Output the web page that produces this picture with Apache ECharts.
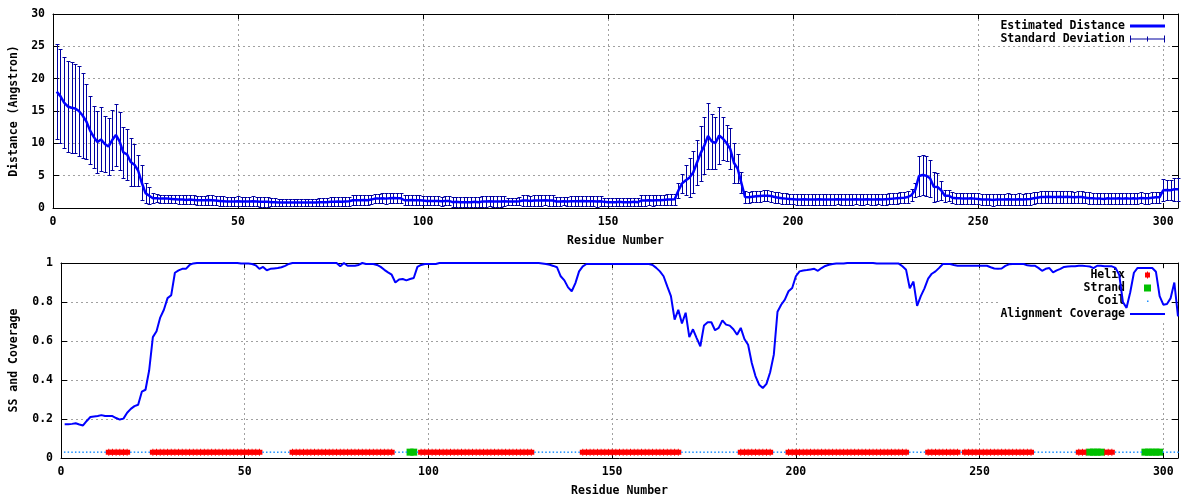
<!DOCTYPE html>
<html><head><meta charset="utf-8">
<script src="https://cdn.jsdelivr.net/npm/echarts@6/dist/echarts.min.js"></script>
<style>html,body{margin:0;padding:0;background:#fff}#c{width:1200px;height:500px}</style>
</head><body><div id="c"></div>
<script>
// ---------------- DATA ----------------
const xTicks = [0, 50, 100, 150, 200, 250, 300];
const distanceTicks = [0, 5, 10, 15, 20, 25, 30];
const coverageTicks = [0, 0.2, 0.4, 0.6, 0.8, 1];

// Estimated distance per residue (1..304)
const distance = [
 18.0,17.3,16.3,15.7,15.5,15.4,15.0,14.3,13.4,12.0,
 11.0,10.2,10.6,9.9,9.5,10.5,11.3,10.3,8.6,8.3,
 7.1,6.7,5.8,3.9,2.3,1.9,1.5,1.5,1.45,1.45,
 1.45,1.4,1.35,1.3,1.3,1.25,1.3,1.25,1.2,1.2,
 1.2,1.25,1.2,1.15,1.1,1.05,1.0,1.0,1.0,1.05,
 1.0,1.0,1.0,1.05,1.0,0.95,0.95,0.95,0.9,0.9,
 0.85,0.85,0.85,0.85,0.85,0.85,0.85,0.85,0.85,0.85,
 0.85,0.9,0.9,0.9,0.95,0.95,1.0,0.95,1.0,1.05,
 1.2,1.2,1.2,1.25,1.2,1.3,1.45,1.45,1.5,1.45,
 1.5,1.55,1.5,1.5,1.2,1.2,1.25,1.2,1.2,1.15,
 1.1,1.1,1.1,1.1,1.05,1.1,1.1,0.9,0.95,0.9,
 0.9,0.9,0.9,0.95,0.9,1.0,1.0,1.05,1.0,1.0,
 1.0,1.05,1.0,1.0,1.0,1.05,1.15,1.15,1.1,1.15,
 1.15,1.15,1.2,1.15,1.15,1.0,1.0,1.05,1.0,1.05,
 1.05,1.05,1.1,1.05,1.05,1.05,1.0,1.05,0.95,0.9,
 0.9,0.9,0.95,0.9,0.9,0.9,0.95,0.9,1.15,1.15,
 1.2,1.15,1.2,1.2,1.25,1.3,1.3,1.35,2.7,3.8,
 4.3,4.7,5.5,7.0,8.45,9.65,11.15,10.3,10.05,11.2,
 10.75,10.05,9.15,7.0,6.1,3.9,1.7,1.65,1.75,1.8,
 1.85,1.9,1.9,1.85,1.7,1.6,1.5,1.45,1.4,1.35,
 1.3,1.3,1.35,1.3,1.3,1.3,1.35,1.3,1.3,1.3,
 1.3,1.35,1.3,1.3,1.3,1.3,1.35,1.3,1.3,1.35,
 1.3,1.3,1.35,1.3,1.35,1.4,1.45,1.5,1.55,1.6,
 1.7,2.0,2.8,4.95,5.1,5.0,4.6,3.3,3.25,2.75,
 1.9,1.9,1.6,1.5,1.5,1.45,1.45,1.5,1.45,1.4,
 1.3,1.3,1.3,1.25,1.3,1.3,1.3,1.35,1.3,1.3,
 1.35,1.3,1.35,1.4,1.5,1.6,1.7,1.7,1.75,1.7,
 1.7,1.75,1.7,1.75,1.7,1.65,1.7,1.7,1.6,1.5,
 1.5,1.45,1.45,1.4,1.5,1.45,1.45,1.5,1.45,1.5,
 1.45,1.5,1.45,1.55,1.5,1.5,1.6,1.65,1.65,2.75,
 2.8,2.75,2.9,2.9
];

// Standard deviation per residue (1..304)
const stdDev = [
 7.4,7.25,7.05,7.0,7.05,6.9,7.0,6.5,5.85,5.25,
 4.75,4.8,4.95,4.4,4.45,4.6,4.8,4.5,4.0,3.9,
 3.65,3.25,2.45,2.7,1.5,1.35,0.8,0.6,0.6,0.6,
 0.6,0.6,0.65,0.7,0.7,0.7,0.7,0.7,0.7,0.7,
 0.7,0.75,0.75,0.75,0.75,0.75,0.75,0.75,0.75,0.8,
 0.75,0.75,0.75,0.8,0.75,0.75,0.75,0.75,0.6,0.6,
 0.6,0.6,0.6,0.6,0.6,0.6,0.6,0.6,0.6,0.6,
 0.6,0.6,0.6,0.6,0.7,0.7,0.7,0.7,0.7,0.7,
 0.75,0.75,0.75,0.75,0.75,0.75,0.65,0.65,0.75,0.8,
 0.75,0.75,0.75,0.75,0.75,0.75,0.75,0.75,0.75,0.7,
 0.7,0.7,0.7,0.7,0.7,0.7,0.7,0.75,0.75,0.75,
 0.75,0.75,0.75,0.75,0.75,0.8,0.8,0.8,0.8,0.8,
 0.8,0.8,0.6,0.6,0.6,0.6,0.8,0.8,0.8,0.8,
 0.8,0.8,0.8,0.8,0.8,0.65,0.65,0.65,0.65,0.8,
 0.8,0.8,0.8,0.8,0.8,0.8,0.8,0.8,0.6,0.6,
 0.6,0.6,0.6,0.6,0.6,0.6,0.6,0.6,0.8,0.8,
 0.8,0.8,0.8,0.8,0.8,0.85,0.85,0.85,1.2,1.45,
 2.3,3.0,3.25,3.5,4.25,4.45,5.15,4.3,4.05,4.4,
 3.35,2.75,3.15,3.1,2.3,1.6,0.9,0.8,0.85,0.85,
 0.85,0.85,0.85,0.85,0.85,0.85,0.85,0.85,0.8,0.8,
 0.8,0.8,0.85,0.8,0.8,0.8,0.85,0.8,0.8,0.8,
 0.8,0.8,0.8,0.85,0.8,0.8,0.8,0.8,0.85,0.8,
 0.8,0.8,0.8,0.8,0.85,0.85,0.85,0.85,0.85,0.9,
 0.9,0.9,1.1,3.15,3.1,3.1,2.9,2.3,2.1,1.45,
 0.95,0.85,0.8,0.85,0.85,0.85,0.85,0.85,0.85,0.85,
 0.9,0.9,0.9,0.9,0.9,0.9,0.9,0.9,0.9,0.9,
 0.9,0.9,0.9,0.9,0.9,0.9,0.9,0.9,0.9,0.9,
 0.9,0.9,0.9,0.9,0.9,0.9,0.9,0.9,0.9,0.9,
 0.85,0.85,0.85,0.85,0.85,0.85,0.85,0.85,0.85,0.85,
 0.85,0.85,0.85,0.85,0.85,0.85,0.85,0.85,0.85,1.7,
 1.6,1.55,1.8,1.75
];

// Alignment coverage per residue (1..304)
const coverage = [
 0.173,0.173,0.175,0.178,0.172,0.167,0.19,0.21,0.213,0.215,
 0.22,0.215,0.215,0.215,0.205,0.197,0.202,0.232,0.252,0.266,
 0.273,0.34,0.35,0.45,0.62,0.65,0.72,0.76,0.82,0.835,
 0.95,0.962,0.97,0.97,0.99,0.998,1,1,1,1,
 1,1,1,1,1,1,1,1,0.997,0.997,
 0.997,0.995,0.988,0.97,0.98,0.963,0.97,0.972,0.974,0.978,
 0.985,0.995,1,1,1,1,1,1,1,1,
 1,1,1,1,1,0.983,1,0.986,0.986,0.986,
 0.99,1,0.995,0.995,0.995,0.99,0.98,0.965,0.952,0.94,
 0.9,0.915,0.918,0.911,0.918,0.923,0.98,0.99,0.995,0.995,
 0.995,0.995,1,1,1,1,1,1,1,1,
 1,1,1,1,1,1,1,1,1,1,
 1,1,1,1,1,1,1,1,1,1,
 0.998,0.995,0.991,0.985,0.978,0.932,0.911,0.875,0.855,0.897,
 0.957,0.983,0.995,0.995,0.995,0.995,0.995,0.995,0.995,0.995,
 0.995,0.995,0.995,0.995,0.995,0.995,0.995,0.995,0.995,0.995,
 0.99,0.975,0.957,0.932,0.88,0.83,0.71,0.76,0.69,0.745,
 0.62,0.66,0.615,0.573,0.68,0.696,0.696,0.655,0.667,0.706,
 0.684,0.679,0.66,0.632,0.667,0.61,0.581,0.487,0.42,0.376,
 0.359,0.38,0.44,0.53,0.75,0.786,0.812,0.855,0.872,0.932,
 0.957,0.962,0.964,0.967,0.97,0.96,0.974,0.985,0.991,0.995,
 0.997,0.997,0.997,1,1,1,1,1,1,1,
 1,0.997,0.997,0.997,0.997,0.997,0.997,0.997,0.983,0.965,
 0.87,0.905,0.78,0.83,0.87,0.92,0.945,0.957,0.975,0.995,
 0.995,0.995,0.99,0.986,0.986,0.986,0.986,0.986,0.986,0.986,
 0.986,0.986,0.978,0.972,0.97,0.972,0.985,0.993,0.995,0.995,
 0.995,0.995,0.988,0.986,0.986,0.975,0.96,0.97,0.974,0.952,
 0.962,0.97,0.98,0.982,0.983,0.983,0.986,0.986,0.984,0.982,
 0.974,0.986,0.986,0.983,0.983,0.983,0.975,0.94,0.8,0.77,
 0.85,0.95,0.975,0.974,0.974,0.974,0.974,0.955,0.83,0.786,
 0.79,0.82,0.9,0.726
];

// Secondary structure segments [first residue, last residue]
const helixSegments = [[13,18],[25,54],[63,90],[98,128],[142,168],[185,193],[198,230],[236,244],[246,264],[277,279],[284,286]];
const strandSegments = [[95,96],[280,283],[295,299]];
const ssTrackLevel = 0.03;

// ---------------- BUILD ----------------
const residues = distance.map((_, i) => i + 1);
function inSegs(r, segs) { return segs.some(s => r >= s[0] && r <= s[1]); }
const helixPts = [], strandPts = [], coilPts = [];
residues.forEach(r => {
  if (inSegs(r, helixSegments)) helixPts.push([r, ssTrackLevel]);
  else if (inSegs(r, strandSegments)) strandPts.push([r, ssTrackLevel]);
  else coilPts.push([r, ssTrackLevel]);
});

const FONT = 'DejaVu Sans Mono';
const txt = {fontFamily: FONT, fontWeight: 'bold', fontSize: 11.5, color: '#000'};
const grid = {color: '#a0a0a0', type: [2, 3], width: 1};
const BLUE = '#0000ff', NAVY = '#0000a0';

function xAxisDef(gi, pos, main) {
  return {
    gridIndex: gi, type: 'value', min: 0, max: 304, interval: 50, position: pos,
    axisLine: {show: true, onZero: false, lineStyle: {color: '#000', width: 1}},
    axisTick: {show: true, inside: true, length: 5, lineStyle: {color: '#000', width: 1}},
    axisLabel: main ? Object.assign({}, txt, {margin: 8, formatter: v => xTicks.includes(v) ? String(v) : ''}) : {show: false},
    splitLine: main ? {show: true, showMinLine: false, showMaxLine: false, lineStyle: grid} : {show: false},
    name: main ? 'Residue Number' : '', nameLocation: 'middle', nameGap: 27, nameTextStyle: txt
  };
}
function yAxisDef(gi, pos, main, ticks, name, gap) {
  return {
    gridIndex: gi, type: 'value', min: ticks[0], max: ticks[ticks.length - 1],
    interval: ticks[1] - ticks[0], position: pos,
    axisLine: {show: true, onZero: false, lineStyle: {color: '#000', width: 1}},
    axisTick: {show: true, inside: true, length: 6, lineStyle: {color: '#000', width: 1}},
    axisLabel: main ? Object.assign({}, txt, {margin: 8}) : {show: false},
    splitLine: main ? {show: true, showMinLine: false, showMaxLine: false, lineStyle: grid} : {show: false},
    name: main ? name : '', nameLocation: 'middle', nameGap: gap, nameRotate: 90, nameTextStyle: txt
  };
}

const ICON = {
  dist: 'path://M0,0M35,13M0,5h35v3h-35z',
  sd: 'path://M0,0M35,13M0,3h1v7h-1zM0,6h35v1h-35zM34,3h1v7h-1zM17,4h1v5h-1z',
  helix: 'path://M0,0M35,13M15,4h5v5h-5zM17,3h1v7h-1z',
  strand: 'path://M0,0M35,13M14,3h7v7h-7z',
  coil: 'path://M0,0M35,13M17,6h1.5v1.5h-1.5z',
  cov: 'path://M0,0M35,13M0,5.5h35v2h-35z'
};
const legendBase = {
  orient: 'vertical', align: 'right', right: 29, itemWidth: 35, itemHeight: 13, itemGap: 0,
  padding: [0, 6, 0, 2], backgroundColor: '#fff', z: 1, selectedMode: false,
  itemStyle: {borderWidth: 0, opacity: 1},
  textStyle: Object.assign({}, txt, {lineHeight: 13})
};

const option = {
  animation: false,
  backgroundColor: '#fff',
  grid: [
    {left: 52, top: 14, width: 1126, height: 194},
    {left: 58, top: 263, width: 1120, height: 195}
  ],
  xAxis: [xAxisDef(0, 'bottom', true), xAxisDef(0, 'top', false), xAxisDef(1, 'bottom', true), xAxisDef(1, 'top', false)],
  yAxis: [
    yAxisDef(0, 'left', true, distanceTicks, 'Distance (Angstron)', 33),
    yAxisDef(0, 'right', false, distanceTicks, '', 0),
    yAxisDef(1, 'left', true, coverageTicks, 'SS and Coverage', 41),
    yAxisDef(1, 'right', false, coverageTicks, '', 0)
  ],
  legend: [
    Object.assign({}, legendBase, {top: 19.5, data: [
      {name: 'Estimated Distance', icon: ICON.dist},
      {name: 'Standard Deviation', icon: ICON.sd}
    ]}),
    Object.assign({}, legendBase, {top: 268.5, data: [
      {name: 'Helix', icon: ICON.helix},
      {name: 'Strand', icon: ICON.strand},
      {name: 'Coil', icon: ICON.coil},
      {name: 'Alignment Coverage', icon: ICON.cov}
    ]})
  ],
  series: [
    {
      name: 'Standard Deviation', type: 'custom', xAxisIndex: 0, yAxisIndex: 0, z: 2, silent: true,
      itemStyle: {color: NAVY},
      data: residues.map((r, i) => [r, distance[i], stdDev[i]]),
      renderItem: function (params, api) {
        const x = api.value(0), m = api.value(1), s = api.value(2);
        const lo = Math.max(m - s, 0), hi = Math.min(m + s, 30);
        const pT = api.coord([x, hi]), pB = api.coord([x, lo]);
        const cx = Math.round(pT[0]) + 0.5;
        const yt = Math.round(pT[1]) + 0.5, yb = Math.round(pB[1]) + 0.5;
        const st = () => ({stroke: NAVY, lineWidth: 1, fill: null});
        const ch = [{type: 'line', shape: {x1: cx, y1: yt, x2: cx, y2: yb}, style: st()}];
        if (m + s <= 30) ch.push({type: 'line', shape: {x1: cx - 2, y1: yt, x2: cx + 2, y2: yt}, style: st()});
        if (m - s >= 0) ch.push({type: 'line', shape: {x1: cx - 2, y1: yb, x2: cx + 2, y2: yb}, style: st()});
        return {type: 'group', children: ch};
      }
    },
    {
      name: 'Estimated Distance', type: 'line', xAxisIndex: 0, yAxisIndex: 0, z: 3, silent: true,
      symbol: 'none', showSymbol: false,
      itemStyle: {color: BLUE}, lineStyle: {color: BLUE, width: 2.5},
      data: residues.map((r, i) => [r, distance[i]])
    },
    {
      name: 'Helix', type: 'scatter', xAxisIndex: 2, yAxisIndex: 2, z: 2, silent: true,
      symbol: 'path://M0,1h6v5h-6zM2.5,0h1v7h-1z', symbolSize: [6, 7],
      itemStyle: {color: '#ff0000', opacity: 1}, data: helixPts
    },
    {
      name: 'Strand', type: 'scatter', xAxisIndex: 2, yAxisIndex: 2, z: 2, silent: true,
      symbol: 'rect', symbolSize: [7, 7],
      itemStyle: {color: '#00c000', opacity: 1}, data: strandPts
    },
    {
      name: 'Coil', type: 'scatter', xAxisIndex: 2, yAxisIndex: 2, z: 2, silent: true,
      symbol: 'rect', symbolSize: [1.5, 1.5],
      itemStyle: {color: '#1e90ff', opacity: 1}, data: coilPts
    },
    {
      name: 'Alignment Coverage', type: 'line', xAxisIndex: 2, yAxisIndex: 2, z: 3, silent: true,
      symbol: 'none', showSymbol: false,
      itemStyle: {color: BLUE}, lineStyle: {color: BLUE, width: 2},
      data: residues.map((r, i) => [r, coverage[i]])
    }
  ]
};
const chart = echarts.init(document.getElementById('c'), null, {renderer: 'canvas'});
chart.setOption(option);
</script>
</body></html>
